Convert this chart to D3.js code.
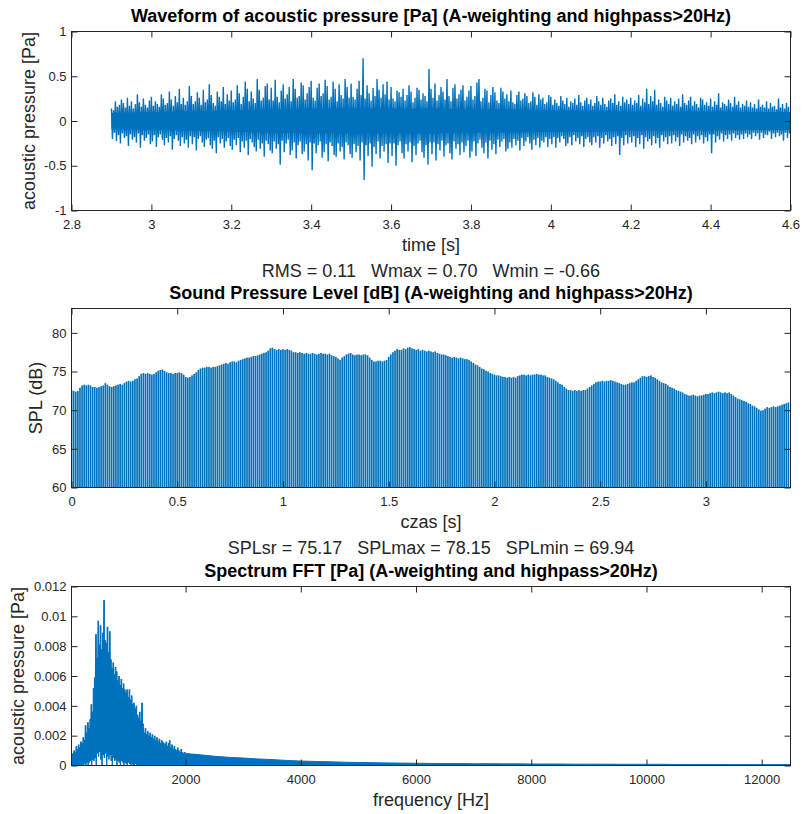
<!DOCTYPE html>
<html>
<head>
<meta charset="utf-8">
<title>Acoustic analysis</title>
<script src="https://cdn.jsdelivr.net/npm/d3@7"></script>
<style>
  body { margin: 0; background: #fff; }
  svg { display: block; font-family: "Liberation Sans", Arial, Helvetica, sans-serif; }
  .ax-label { font-size: 18px; fill: #262626; white-space: pre; }
  .ax-title { font-size: 18px; font-weight: bold; fill: #000; }
</style>
</head>
<body>
<svg id="fig"></svg>
<script>
// ---------- data ----------

// waveform: peak max / min in 5 ms bins, starting at 2.90 s (one row = 0.1 s)
const waveStart = 2.9;
const waveStep = 0.005;
const waveMax = [
  0.14,0.12,0.22,0.16,0.18,0.24,0.20,0.15,0.26,0.17,0.22,0.14,0.19,0.30,0.21,0.16,0.25,0.18,0.15,0.23,
  0.27,0.17,0.22,0.19,0.16,0.30,0.25,0.18,0.20,0.33,0.24,0.17,0.28,0.21,0.36,0.19,0.26,0.18,0.22,0.39,
  0.28,0.19,0.22,0.32,0.26,0.18,0.35,0.21,0.24,0.41,0.29,0.20,0.17,0.33,0.27,0.22,0.38,0.19,0.30,0.23,
  0.34,0.21,0.24,0.40,0.31,0.19,0.27,0.44,0.36,0.22,0.33,0.25,0.20,0.47,0.35,0.23,0.26,0.39,0.42,0.24,
  0.37,0.23,0.46,0.27,0.21,0.34,0.41,0.25,0.30,0.38,0.22,0.47,0.36,0.26,0.28,0.43,0.40,0.24,0.31,0.38,
  0.45,0.26,0.23,0.37,0.42,0.28,0.31,0.46,0.39,0.24,0.27,0.44,0.36,0.22,0.41,0.29,0.25,0.47,0.38,0.26,
  0.42,0.27,0.24,0.36,0.45,0.29,0.70,0.25,0.40,0.31,0.23,0.37,0.28,0.47,0.35,0.26,0.41,0.30,0.44,0.24,
  0.38,0.25,0.22,0.34,0.32,0.27,0.36,0.23,0.29,0.40,0.33,0.21,0.26,0.37,0.35,0.24,0.31,0.28,0.22,0.58,
  0.36,0.26,0.42,0.23,0.29,0.38,0.33,0.24,0.47,0.28,0.22,0.37,0.41,0.25,0.30,0.35,0.40,0.23,0.27,0.34,
  0.39,0.24,0.28,0.43,0.47,0.22,0.26,0.36,0.34,0.21,0.29,0.38,0.32,0.23,0.20,0.37,0.33,0.25,0.30,0.22,
  0.34,0.21,0.19,0.29,0.33,0.23,0.25,0.31,0.28,0.20,0.22,0.32,0.27,0.18,0.30,0.24,0.26,0.19,0.21,0.29,
  0.27,0.18,0.24,0.20,0.17,0.28,0.23,0.19,0.26,0.16,0.22,0.20,0.25,0.18,0.29,0.21,0.17,0.23,0.26,0.19,
  0.24,0.17,0.20,0.28,0.22,0.18,0.26,0.19,0.16,0.23,0.25,0.20,0.30,0.18,0.22,0.17,0.27,0.21,0.24,0.19,
  0.26,0.18,0.23,0.20,0.29,0.17,0.25,0.21,0.36,0.19,0.28,0.22,0.35,0.18,0.24,0.20,0.16,0.27,0.23,0.19,
  0.26,0.17,0.22,0.19,0.25,0.16,0.30,0.20,0.18,0.23,0.27,0.17,0.22,0.19,0.15,0.26,0.24,0.18,0.21,0.17,
  0.25,0.16,0.22,0.18,0.31,0.15,0.21,0.19,0.17,0.24,0.20,0.16,0.27,0.18,0.22,0.15,0.19,0.17,0.23,0.16,
  0.21,0.15,0.19,0.14,0.24,0.16,0.18,0.15,0.22,0.14,0.20,0.16,0.17,0.13,0.25,0.15,0.19,0.14,0.20,0.16
];
const waveMin = [
  -0.20,-0.13,-0.22,-0.16,-0.25,-0.14,-0.19,-0.17,-0.28,-0.15,-0.21,-0.18,-0.24,-0.14,-0.30,-0.16,-0.22,-0.19,-0.15,-0.26,
  -0.23,-0.16,-0.29,-0.18,-0.15,-0.21,-0.27,-0.19,-0.24,-0.17,-0.32,-0.20,-0.16,-0.22,-0.28,-0.18,-0.25,-0.21,-0.30,-0.17,
  -0.26,-0.18,-0.33,-0.20,-0.17,-0.24,-0.29,-0.21,-0.19,-0.27,-0.31,-0.22,-0.36,-0.18,-0.25,-0.20,-0.30,-0.23,-0.19,-0.28,
  -0.32,-0.21,-0.27,-0.19,-0.35,-0.23,-0.30,-0.22,-0.38,-0.20,-0.24,-0.29,-0.34,-0.21,-0.31,-0.25,-0.40,-0.22,-0.26,-0.33,
  -0.36,-0.23,-0.31,-0.26,-0.49,-0.22,-0.35,-0.25,-0.21,-0.38,-0.33,-0.24,-0.42,-0.27,-0.23,-0.37,-0.34,-0.26,-0.44,-0.24,
  -0.55,-0.25,-0.36,-0.27,-0.23,-0.41,-0.35,-0.26,-0.45,-0.24,-0.28,-0.38,-0.40,-0.25,-0.34,-0.29,-0.43,-0.24,-0.27,-0.37,
  -0.41,-0.26,-0.35,-0.28,-0.44,-0.24,-0.66,-0.27,-0.39,-0.25,-0.51,-0.29,-0.37,-0.23,-0.42,-0.28,-0.34,-0.26,-0.47,-0.25,
  -0.39,-0.25,-0.50,-0.27,-0.23,-0.36,-0.42,-0.26,-0.34,-0.24,-0.46,-0.28,-0.38,-0.25,-0.22,-0.35,-0.41,-0.27,-0.49,-0.24,
  -0.37,-0.24,-0.44,-0.26,-0.33,-0.22,-0.40,-0.27,-0.25,-0.36,-0.43,-0.23,-0.31,-0.26,-0.38,-0.24,-0.35,-0.28,-0.22,-0.41,
  -0.34,-0.23,-0.39,-0.25,-0.21,-0.30,-0.36,-0.24,-0.42,-0.22,-0.32,-0.26,-0.37,-0.21,-0.29,-0.23,-0.20,-0.34,-0.31,-0.24,
  -0.30,-0.20,-0.27,-0.22,-0.33,-0.19,-0.28,-0.23,-0.18,-0.25,-0.32,-0.21,-0.27,-0.19,-0.30,-0.22,-0.24,-0.18,-0.29,-0.20,
  -0.26,-0.18,-0.30,-0.19,-0.24,-0.17,-0.20,-0.28,-0.25,-0.18,-0.27,-0.16,-0.23,-0.19,-0.26,-0.17,-0.29,-0.20,-0.18,-0.24,
  -0.27,-0.18,-0.24,-0.17,-0.30,-0.19,-0.25,-0.16,-0.23,-0.20,-0.28,-0.18,-0.26,-0.17,-0.38,-0.19,-0.27,-0.16,-0.25,-0.18,
  -0.24,-0.17,-0.29,-0.19,-0.26,-0.16,-0.31,-0.18,-0.23,-0.20,-0.27,-0.17,-0.25,-0.19,-0.30,-0.16,-0.23,-0.18,-0.26,-0.17,
  -0.25,-0.16,-0.23,-0.18,-0.28,-0.15,-0.24,-0.17,-0.22,-0.19,-0.26,-0.15,-0.24,-0.17,-0.21,-0.16,-0.25,-0.18,-0.23,-0.15,
  -0.36,-0.15,-0.24,-0.17,-0.21,-0.14,-0.23,-0.16,-0.20,-0.15,-0.22,-0.14,-0.19,-0.16,-0.21,-0.15,-0.20,-0.14,-0.18,-0.15,
  -0.20,-0.13,-0.17,-0.14,-0.21,-0.13,-0.19,-0.15,-0.16,-0.12,-0.20,-0.14,-0.18,-0.13,-0.17,-0.15,-0.22,-0.13,-0.19,-0.14
];
// dense core of the waveform (+/- amplitude every 0.1 s from 2.9 s)
const waveCoreStep = 0.1;
const waveCore = [0.09,0.10,0.11,0.12,0.13,0.14,0.14,0.14,0.14,0.13,0.13,0.12,0.12,0.11,0.11,0.11,0.10,0.10];

// SPL every 10 ms from 0 s
const splStep = 0.01;
const splValues = [
  72.6,72.5,72.4,72.5,72.9,73.2,73.3,73.2,73.3,73.2,73.0,73.0,72.9,73.0,73.1,73.2,73.5,73.3,73.1,73.0,
  73.1,73.2,73.3,73.4,73.3,73.5,73.7,73.8,73.7,73.8,74.0,74.1,74.4,74.7,74.8,74.7,74.8,74.7,74.6,74.7,
  74.9,75.1,75.2,75.25,75.1,74.9,74.8,74.8,74.7,74.8,74.8,74.9,74.8,74.6,74.3,74.2,74.3,74.5,74.7,74.9,
  75.2,75.4,75.5,75.5,75.6,75.6,75.5,75.6,75.6,75.7,75.8,75.9,76.0,76.1,76.0,76.2,76.3,76.3,76.2,76.4,
  76.5,76.6,76.7,76.8,76.8,76.9,77.0,77.0,77.1,77.2,77.3,77.4,77.5,77.7,78.0,78.1,77.9,77.8,77.9,77.8,
  77.9,77.8,77.9,77.8,77.7,77.5,77.5,77.4,77.5,77.4,77.3,77.4,77.3,77.3,77.4,77.3,77.2,77.3,77.4,77.3,
  77.3,77.2,77.3,77.1,77.0,76.9,76.7,76.5,76.8,77.0,77.2,77.3,77.4,77.2,77.1,77.2,77.2,77.1,77.2,77.2,
  77.1,76.8,76.5,76.3,76.3,76.4,76.4,76.3,76.4,76.5,76.9,77.2,77.5,77.7,77.9,77.8,77.8,78.0,77.9,78.1,
  78.15,78.0,77.9,77.8,77.9,77.7,77.8,77.7,77.6,77.7,77.6,77.5,77.6,77.4,77.3,77.2,77.2,77.1,77.0,76.9,
  76.8,76.9,76.8,76.7,76.8,76.7,76.6,76.6,76.5,76.3,76.1,75.9,75.8,75.6,75.4,75.3,75.1,75.0,74.8,74.7,
  74.6,74.5,74.5,74.4,74.3,74.3,74.2,74.3,74.2,74.3,74.2,74.4,74.5,74.6,74.6,74.5,74.6,74.5,74.6,74.6,
  74.7,74.6,74.6,74.5,74.5,74.3,74.2,74.1,74.0,73.8,73.6,73.4,73.3,73.0,72.8,72.6,72.6,72.5,72.6,72.5,
  72.6,72.5,72.6,72.6,72.8,73.0,73.2,73.4,73.6,73.7,73.7,73.8,73.7,73.8,73.8,73.9,73.8,73.7,73.6,73.5,
  73.4,73.3,73.3,73.4,73.5,73.6,73.6,73.8,74.0,74.2,74.4,74.4,74.3,74.4,74.5,74.3,74.2,74.0,73.8,73.6,
  73.5,73.4,73.2,73.0,72.9,72.8,72.6,72.5,72.4,72.3,72.1,72.0,71.9,71.9,72.0,71.9,71.8,71.9,71.9,72.0,
  72.1,72.1,72.2,72.3,72.2,72.3,72.4,72.3,72.2,72.3,72.2,72.3,72.1,71.9,71.7,71.5,71.4,71.3,71.2,71.1,
  70.9,70.8,70.6,70.5,70.3,70.1,69.94,70.0,70.2,70.4,70.3,70.4,70.5,70.4,70.5,70.6,70.7,70.8,70.9,71.0
];

// FFT magnitude, 20 Hz bins from 20 Hz to 2000 Hz (peak and floor per bin)
const fftStart = 20;
const fftStep = 20;
const fftPeak = [
  0.0005,0.0008,0.0010,0.0009,0.0013,0.0011,0.0014,0.0012,0.0016,0.0015,
  0.0019,0.0017,0.0027,0.0022,0.0029,0.0025,0.0031,0.0041,0.0036,0.0052,
  0.0059,0.0088,0.0072,0.0097,0.0081,0.0094,0.0078,0.0089,0.0111,0.0084,
  0.0082,0.0093,0.0076,0.0090,0.0071,0.0065,0.0069,0.0061,0.0066,0.0063,
  0.0057,0.0060,0.0054,0.0058,0.0052,0.0055,0.0051,0.0049,0.0051,0.0046,
  0.0051,0.0044,0.0047,0.0041,0.0042,0.0038,0.0040,0.0034,0.0032,0.0036,
  0.0030,0.0042,0.0028,0.0022,0.0025,0.0021,0.0023,0.0020,0.0022,0.0019,
  0.0021,0.0018,0.0020,0.0017,0.0019,0.0016,0.0018,0.0015,0.0017,0.0016,
  0.0015,0.0014,0.0016,0.0013,0.0015,0.0017,0.0012,0.0014,0.0011,0.0013,
  0.0011,0.0010,0.0012,0.0010,0.0009,0.0011,0.0009,0.0008,0.0009,0.0008
];
const fftFloor = [
  0,0,0,0,0,0,0,0,0,0,
  0,0.0001,0,0.0002,0,0.0002,0.0003,0,0.0004,0.0003,
  0.0005,0,0.0008,0.0006,0.0009,0.0004,0,0.0007,0.0005,0.0008,
  0,0.0006,0.0004,0.0007,0.0003,0,0.0005,0.0003,0.0004,0,
  0.0003,0.0002,0,0.0003,0.0002,0,0.0002,0.0001,0,0.0002,
  0.0001,0,0.0001,0,0,0.0001,0,0,0,0,
  0,0,0,0,0,0,0,0,0,0,
  0,0,0,0,0,0,0,0,0,0,
  0,0,0,0,0,0,0,0,0,0,
  0,0,0,0,0,0,0,0,0,0
];
// high-frequency tail, every 250 Hz from 2000 Hz to 12500 Hz
const fftTailStart = 2000;
const fftTailStep = 250;
const fftTail = [
  0.0008,0.00072,0.00062,0.00055,0.0005,0.00044,0.0004,0.00034,0.0003,0.00027,
  0.00025,0.00022,0.0002,0.00019,0.00017,0.00016,0.00015,0.00014,0.00013,0.00013,
  0.00012,0.00012,0.00011,0.00011,0.0001,0.0001,0.0001,0.00009,0.00009,0.00009,
  0.00008,0.00008,0.00008,0.00008,0.00007,0.00007,0.00007,0.00007,0.00006,0.00006,
  0.00006,0.00006,0.00006
];

// ticks and text
const waveXTicks = [2.8, 3, 3.2, 3.4, 3.6, 3.8, 4, 4.2, 4.4, 4.6];
const waveYTicks = [-1, -0.5, 0, 0.5, 1];
const splXTicks = [0, 0.5, 1, 1.5, 2, 2.5, 3];
const splYTicks = [60, 65, 70, 75, 80];
const fftXTicks = [2000, 4000, 6000, 8000, 10000, 12000];
const fftYTicks = [0, 0.002, 0.004, 0.006, 0.008, 0.01, 0.012];

const titles = [
  'Waveform of acoustic pressure [Pa] (A-weighting and highpass>20Hz)',
  'Sound Pressure Level [dB] (A-weighting and highpass>20Hz)',
  'Spectrum FFT [Pa] (A-weighting and highpass>20Hz)'
];
const waveStats = 'RMS = 0.11   Wmax = 0.70   Wmin = -0.66';
const splStats = 'SPLsr = 75.17   SPLmax = 78.15   SPLmin = 69.94';

const lineColor = '#0072BD';

// ---------- MATLAB-like axes ----------
class MatlabAxes {

  constructor(_config) {
    this.config = {
      parentElement: _config.parentElement,
      left: _config.left || 71.5,
      top: _config.top,
      width: _config.width || 719,
      height: _config.height || 179,
      xDomain: _config.xDomain,
      yDomain: _config.yDomain,
      xTicks: _config.xTicks,
      yTicks: _config.yTicks,
      title: _config.title,
      xLabel: _config.xLabel,
      yLabel: _config.yLabel,
      yLabelX: _config.yLabelX,
      tickLength: 6
    }
    this.initVis();
  }

  initVis() {
    let vis = this;
    let c = vis.config;

    vis.xScale = d3.scaleLinear().domain(c.xDomain).range([0, c.width]);
    vis.yScale = d3.scaleLinear().domain(c.yDomain).range([c.height, 0]);

    vis.chart = c.parentElement.append('g')
      .attr('transform', `translate(${c.left},${c.top})`);

    let clipId = 'clip' + Math.round(c.top);
    vis.chart.append('clipPath').attr('id', clipId)
      .append('rect').attr('width', c.width).attr('height', c.height);

    vis.plot = vis.chart.append('g').attr('clip-path', `url(#${clipId})`);
  }

  renderAxes() {
    let vis = this;
    let c = vis.config;
    let fmt = d => String(d);

    let styleAxis = g => {
      g.select('.domain').remove();
      g.attr('font-size', 13).attr('font-family', null).attr('color', '#262626');
      g.selectAll('line').attr('stroke-width', 1);
    };

    vis.chart.append('g')
      .attr('transform', `translate(0,${c.height})`)
      .call(d3.axisBottom(vis.xScale).tickValues(c.xTicks).tickFormat(fmt)
        .tickSizeInner(-c.tickLength).tickSizeOuter(0).tickPadding(9))
      .call(styleAxis);

    vis.chart.append('g')
      .call(d3.axisTop(vis.xScale).tickValues(c.xTicks).tickFormat('')
        .tickSizeInner(-c.tickLength).tickSizeOuter(0))
      .call(styleAxis);

    vis.chart.append('g')
      .call(d3.axisLeft(vis.yScale).tickValues(c.yTicks).tickFormat(fmt)
        .tickSizeInner(-c.tickLength).tickSizeOuter(0).tickPadding(5))
      .call(styleAxis);

    vis.chart.append('g')
      .attr('transform', `translate(${c.width},0)`)
      .call(d3.axisRight(vis.yScale).tickValues(c.yTicks).tickFormat('')
        .tickSizeInner(-c.tickLength).tickSizeOuter(0))
      .call(styleAxis);

    // box
    vis.chart.append('rect')
      .attr('width', c.width).attr('height', c.height)
      .attr('fill', 'none').attr('stroke', '#262626').attr('stroke-width', 1);

    vis.chart.append('text')
      .attr('class', 'ax-title')
      .attr('x', c.width / 2).attr('y', -9.5)
      .attr('text-anchor', 'middle')
      .text(c.title);

    c.xLabel.forEach((line, i) => {
      vis.chart.append('text')
        .attr('class', 'ax-label')
        .attr('xml:space', 'preserve')
        .attr('x', c.width / 2).attr('y', c.height + 40.5 + i * 25.7)
        .attr('text-anchor', 'middle')
        .text(line);
    });

    vis.chart.append('text')
      .attr('class', 'ax-label')
      .attr('transform', `translate(${c.yLabelX - c.left},${c.height / 2}) rotate(-90)`)
      .attr('text-anchor', 'middle')
      .text(c.yLabel);
  }
}

const svg = d3.select('#fig').attr('width', 803).attr('height', 814);

// ---------- 1. waveform ----------
let wave = new MatlabAxes({
  parentElement: svg, top: 31.5,
  xDomain: [2.8, 4.6], yDomain: [-1, 1],
  xTicks: waveXTicks, yTicks: waveYTicks,
  title: titles[0], xLabel: ['time [s]', waveStats],
  yLabel: 'acoustic pressure [Pa]', yLabelX: 34.5
});

let coreArea = d3.area()
  .x((d, i) => wave.xScale(waveStart + i * waveCoreStep))
  .y0(d => wave.yScale(-d))
  .y1(d => wave.yScale(d));
wave.plot.append('path').datum(waveCore)
  .attr('d', coreArea).attr('fill', lineColor);

// zig-zag through the bin extremes, like a dense sampled trace
let zig = [];
waveMax.forEach((v, i) => {
  let t = waveStart + i * waveStep;
  zig.push([t, v]);
  if (i < waveMin.length) zig.push([t + waveStep / 2, waveMin[i]]);
});
wave.plot.append('path').datum(zig)
  .attr('d', d3.line().x(d => wave.xScale(d[0])).y(d => wave.yScale(d[1])))
  .attr('fill', 'none').attr('stroke', lineColor).attr('stroke-width', 1.4);
wave.renderAxes();

// ---------- 2. SPL bars ----------
let spl = new MatlabAxes({
  parentElement: svg, top: 308.5,
  xDomain: [0, 3.4], yDomain: [60, 83.15],
  xTicks: splXTicks, yTicks: splYTicks,
  title: titles[1], xLabel: ['czas [s]', splStats],
  yLabel: 'SPL (dB)', yLabelX: 42
});

let barW = spl.xScale(0.8 * splStep) - spl.xScale(0);
spl.plot.selectAll('.bar')
  .data(splValues)
  .join('rect')
    .attr('class', 'bar')
    .attr('x', (d, i) => spl.xScale(i * splStep) - barW / 2)
    .attr('width', barW)
    .attr('y', d => spl.yScale(d))
    .attr('height', d => spl.yScale(60) - spl.yScale(d))
    .attr('fill', lineColor);
spl.renderAxes();

// ---------- 3. spectrum ----------
let fft = new MatlabAxes({
  parentElement: svg, top: 586.5,
  xDomain: [20, 12500], yDomain: [0, 0.012],
  xTicks: fftXTicks, yTicks: fftYTicks,
  title: titles[2], xLabel: ['frequency [Hz]'],
  yLabel: 'acoustic pressure [Pa]', yLabelX: 24
});

// solid body of the low band, floor to peak per bin
fft.plot.append('path').datum(fftPeak)
  .attr('d', d3.area()
    .curve(d3.curveStepAfter)
    .x((d, i) => fft.xScale(fftStart + i * fftStep))
    .y0((d, i) => fft.yScale(fftFloor[i]))
    .y1(d => fft.yScale(d)))
  .attr('fill', lineColor);

let fftZig = [];
fftPeak.forEach((v, i) => {
  let f = fftStart + i * fftStep;
  fftZig.push([f, v]);
  fftZig.push([f + fftStep / 2, fftFloor[i]]);
});
fft.plot.append('path').datum(fftZig)
  .attr('d', d3.line().x(d => fft.xScale(d[0])).y(d => fft.yScale(d[1])))
  .attr('fill', 'none').attr('stroke', lineColor).attr('stroke-width', 1.2);

fft.plot.append('path').datum(fftTail)
  .attr('d', d3.area()
    .x((d, i) => fft.xScale(fftTailStart + i * fftTailStep))
    .y0(fft.yScale(0))
    .y1(d => fft.yScale(d)))
  .attr('fill', lineColor).attr('stroke', lineColor).attr('stroke-width', 1);
fft.renderAxes();
</script>
</body>
</html>
